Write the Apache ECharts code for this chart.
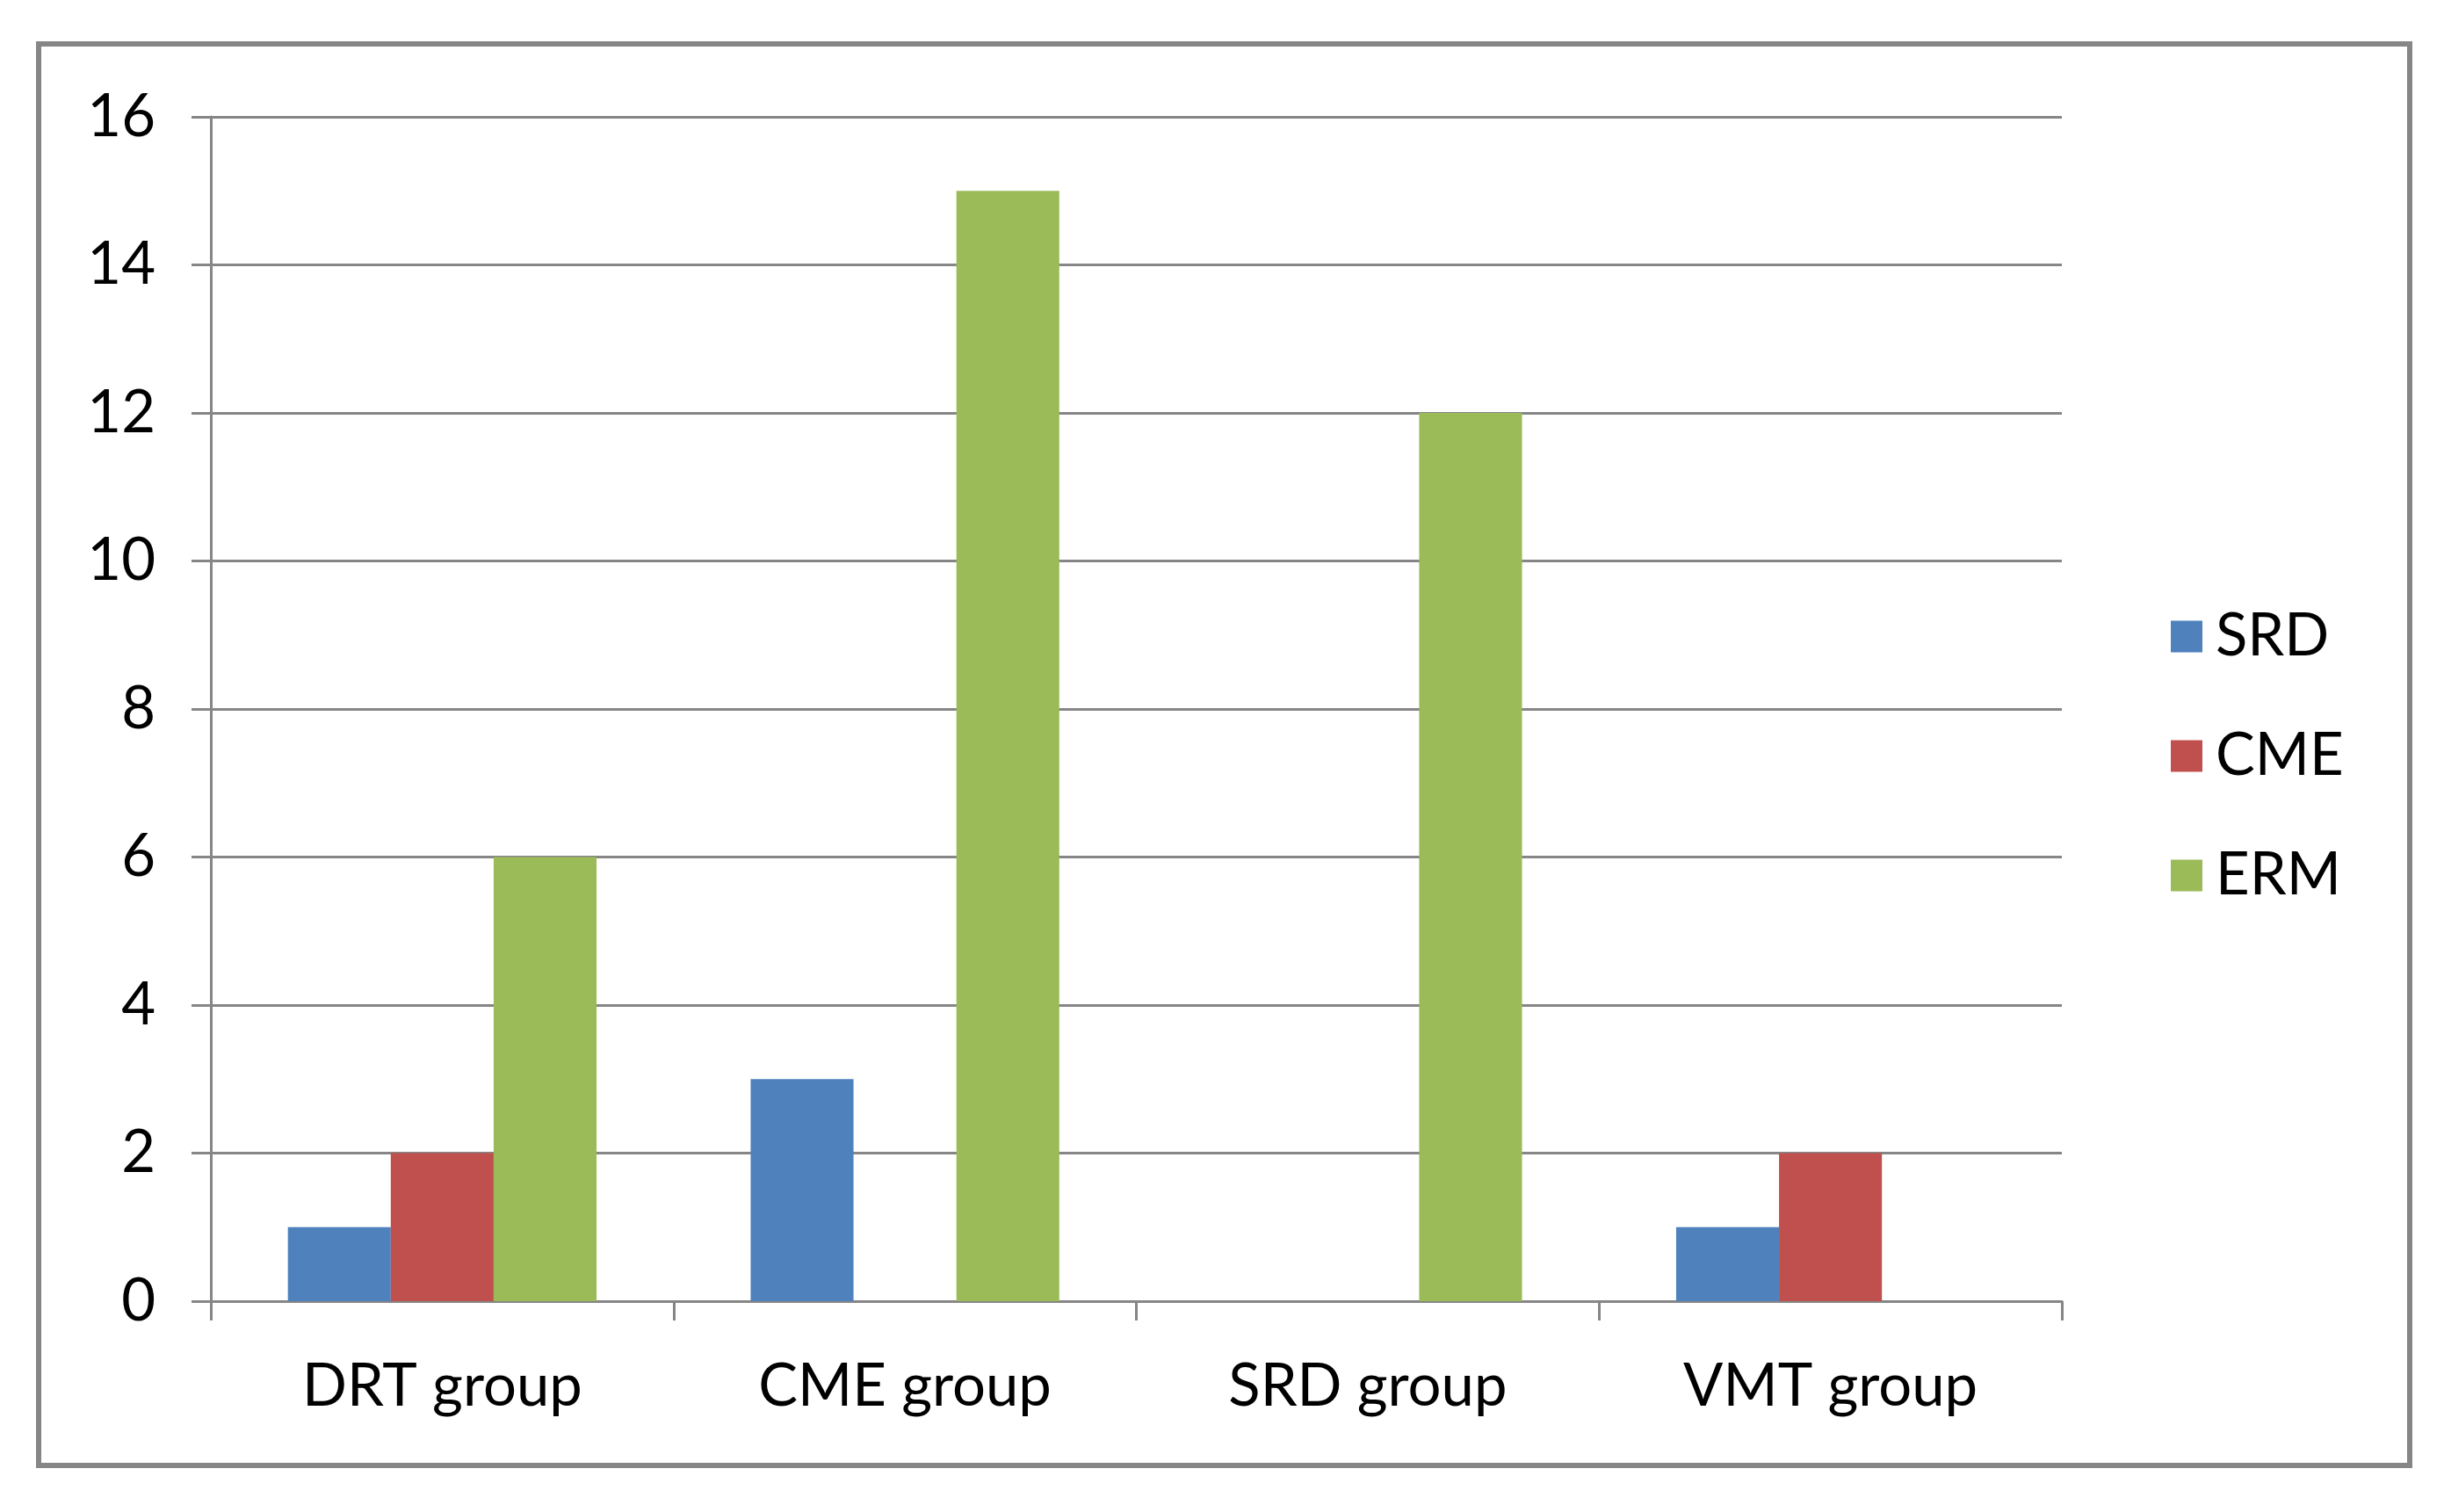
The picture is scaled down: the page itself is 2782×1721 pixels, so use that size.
<!DOCTYPE html>
<html>
<head>
<meta charset="utf-8">
<script src="https://cdn.jsdelivr.net/npm/echarts@6/dist/echarts.min.js"></script>
<style>
html,body{margin:0;padding:0;background:#fff;}
#main{width:2782px;height:1721px;}
</style>
</head>
<body>
<div id="main"></div>
<script>
const categories = ['DRT group', 'CME group', 'SRD group', 'VMT group'];
const srdValues = [1, 3, 0, 1];
const cmeValues = [2, 0, 0, 2];
const ermValues = [6, 15, 12, 0];
const yTicks = [0, 2, 4, 6, 8, 10, 12, 14, 16];

const gray = '#868686';
const font = 'Lato, "Open Sans", sans-serif';
const chart = echarts.init(document.getElementById('main'));
chart.setOption({
  backgroundColor: '#fff',
  animation: false,
  graphic: [{
    type: 'rect',
    shape: { x: 44, y: 50, width: 2699, height: 1618 },
    style: { fill: 'none', stroke: gray, lineWidth: 6 },
    z: 0
  }],
  legend: {
    orient: 'vertical',
    left: 2466,
    top: 686,
    itemWidth: 36,
    itemHeight: 36,
    itemGap: 69,
    icon: 'rect',
    textStyle: { fontFamily: font, fontSize: 67, color: '#000', lineHeight: 67, padding: [0, 0, 0, 10] },
    data: ['SRD', 'CME', 'ERM']
  },
  grid: { left: 240, right: 435, top: 133, bottom: 240, containLabel: false },
  xAxis: {
    type: 'category',
    data: categories,
    axisLine: { show: true, lineStyle: { color: gray, width: 3 } },
    axisTick: { show: true, length: 22, lineStyle: { color: gray, width: 3 } },
    axisLabel: { fontFamily: font, fontSize: 67, color: '#000', margin: 64 }
  },
  yAxis: {
    type: 'value',
    min: 0,
    max: yTicks[yTicks.length - 1],
    interval: yTicks[1] - yTicks[0],
    axisLine: { show: true, lineStyle: { color: gray, width: 3 } },
    axisTick: { show: true, length: 22, lineStyle: { color: gray, width: 3 } },
    splitLine: { show: true, lineStyle: { color: gray, width: 3 } },
    axisLabel: { fontFamily: font, fontSize: 67, color: '#000', margin: 63 }
  },
  series: [
    { name: 'SRD', type: 'bar', data: srdValues, itemStyle: { color: '#4F81BD' }, barGap: '0%', barCategoryGap: '33.3%' },
    { name: 'CME', type: 'bar', data: cmeValues, itemStyle: { color: '#C0504D' }, barGap: '0%', barCategoryGap: '33.3%' },
    { name: 'ERM', type: 'bar', data: ermValues, itemStyle: { color: '#9BBB59' }, barGap: '0%', barCategoryGap: '33.3%' }
  ]
});
</script>
</body>
</html>
